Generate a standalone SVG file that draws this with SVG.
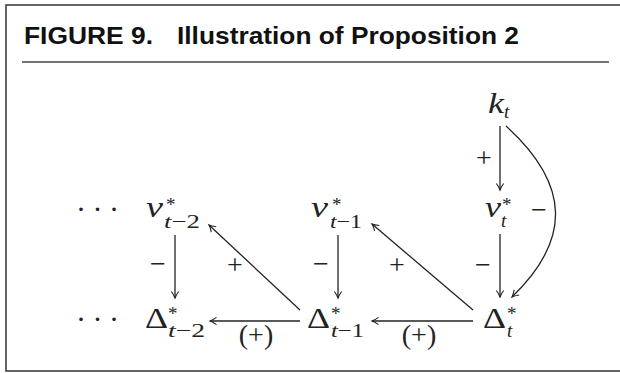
<svg xmlns="http://www.w3.org/2000/svg" width="620" height="373" viewBox="0 0 620 373">
<defs>
<style>
.frame{fill:none;stroke:#333;stroke-width:1.5}
.sep{stroke:#444;stroke-width:1.6}
.title{font-family:"Liberation Sans",Arial,sans-serif;font-weight:bold;font-size:24px;fill:#111}
.m{font-family:"Liberation Serif","Times New Roman",serif;fill:#222}
.it{font-style:italic}
.big{font-size:30px}
.sub{font-size:19px}
.lab{font-size:28px;text-anchor:middle}
.edge{fill:none;stroke:#222;stroke-width:1.3}
</style>
<marker id="ah" viewBox="-8 -5 10 10" markerWidth="10" markerHeight="10" refX="0" refY="0" orient="auto" markerUnits="userSpaceOnUse">
<path d="M-6.5,-3.6 Q-2.5,-0.8 0,0 Q-2.5,0.8 -6.5,3.6" fill="none" stroke="#222" stroke-width="1.1"/>
</marker>
</defs>
<rect width="620" height="373" fill="#fff"/>
<path class="frame" d="M625,5 H6 V371 H625"/>
<text class="title" x="24" y="44" textLength="129" lengthAdjust="spacingAndGlyphs">FIGURE 9.</text>
<text class="title" x="177" y="44" textLength="342" lengthAdjust="spacingAndGlyphs">Illustration of Proposition 2</text>
<line class="sep" x1="22" y1="62" x2="609" y2="62"/>

<g id="connectors">
<line class="edge" x1="500" y1="126" x2="500" y2="190" marker-end="url(#ah)"/>
<path class="edge" d="M506,126 C571,185 571,240 512,297" marker-end="url(#ah)"/>
<line class="edge" x1="500" y1="234" x2="500" y2="297" marker-end="url(#ah)"/>
<line class="edge" x1="338" y1="235" x2="338" y2="298" marker-end="url(#ah)"/>
<line class="edge" x1="175" y1="235" x2="175" y2="298" marker-end="url(#ah)"/>
<line class="edge" x1="473" y1="310" x2="372" y2="224" marker-end="url(#ah)"/>
<line class="edge" x1="300" y1="310" x2="209" y2="225" marker-end="url(#ah)"/>
<line class="edge" x1="473" y1="321" x2="372" y2="321" marker-end="url(#ah)"/>
<line class="edge" x1="300" y1="321" x2="210" y2="321" marker-end="url(#ah)"/>
<text class="m lab" x="484" y="167">+</text>
<text class="m lab" x="539" y="219">−</text>
<text class="m lab" x="483" y="274">−</text>
<text class="m lab" x="321" y="273">−</text>
<text class="m lab" x="158" y="273">−</text>
<text class="m lab" x="397" y="274">+</text>
<text class="m lab" x="235" y="274">+</text>
<text class="m lab" x="256" y="344">(+)</text>
<text class="m lab" x="419" y="344">(+)</text>
</g>

<g id="dots-top"><text class="m big" x="76" y="219" letter-spacing="6.5">···</text></g>
<g id="dots-bottom"><text class="m big" x="76" y="329" letter-spacing="6.5">···</text></g>

<g id="k_t">
<text class="m it big" x="488" y="113" textLength="16" lengthAdjust="spacingAndGlyphs">k</text>
<text class="m it sub" x="504" y="118">t</text>
</g>
<g id="v_t">
<text class="m it big" x="485" y="217" textLength="16" lengthAdjust="spacingAndGlyphs">v</text>
<text class="m sub" x="502" y="211">*</text>
<text class="m it sub" x="501" y="227">t</text>
</g>
<g id="v_t-1">
<text class="m it big" x="311" y="217" textLength="17" lengthAdjust="spacingAndGlyphs">v</text>
<text class="m sub" x="332" y="211">*</text>
<text class="m sub" x="330" y="228" textLength="32" lengthAdjust="spacingAndGlyphs"><tspan class="it">t</tspan>−1</text>
</g>
<g id="v_t-2">
<text class="m it big" x="146" y="217" textLength="17" lengthAdjust="spacingAndGlyphs">v</text>
<text class="m sub" x="166" y="211">*</text>
<text class="m sub" x="164" y="228" textLength="36" lengthAdjust="spacingAndGlyphs"><tspan class="it">t</tspan>−2</text>
</g>
<g id="Delta_t">
<text class="m big" x="483" y="328" textLength="23" lengthAdjust="spacingAndGlyphs">Δ</text>
<text class="m sub" x="507" y="320">*</text>
<text class="m it sub" x="507" y="337">t</text>
</g>
<g id="Delta_t-1">
<text class="m big" x="307" y="328" textLength="23" lengthAdjust="spacingAndGlyphs">Δ</text>
<text class="m sub" x="331" y="320">*</text>
<text class="m sub" x="331" y="337" textLength="33" lengthAdjust="spacingAndGlyphs"><tspan class="it">t</tspan>−1</text>
</g>
<g id="Delta_t-2">
<text class="m big" x="145" y="328" textLength="23" lengthAdjust="spacingAndGlyphs">Δ</text>
<text class="m sub" x="168" y="320">*</text>
<text class="m sub" x="168" y="337" textLength="37" lengthAdjust="spacingAndGlyphs"><tspan class="it">t</tspan>−2</text>
</g>
</svg>
